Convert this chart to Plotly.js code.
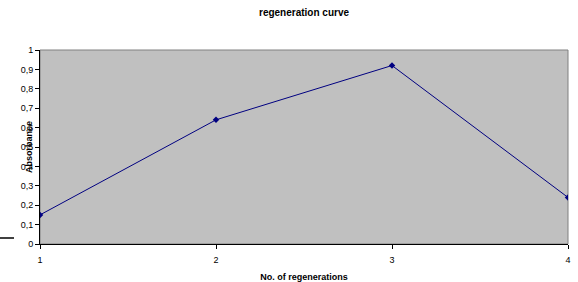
<!DOCTYPE html>
<html>
<head>
<meta charset="utf-8">
<script src="https://cdn.plot.ly/plotly-3.0.1.min.js"></script>
<style>html,body{margin:0;padding:0;background:#fff}#chart{width:578px;height:282px}</style>
</head>
<body>
<div id="chart"></div>
<script>
var regenerations = [1, 2, 3, 4];
var absorbance = [0.15, 0.64, 0.92, 0.24];
var xTickLabels = ['1', '2', '3', '4'];

var font = 'Liberation Sans, Arial, sans-serif';

var trace = {
  x: regenerations,
  y: absorbance,
  type: 'scatter',
  mode: 'lines+markers',
  line: {color: '#000080', width: 1},
  marker: {symbol: 'diamond', size: 5, color: '#000080'},
  showlegend: false,
  hoverinfo: 'skip'
};

var layout = {
  width: 578,
  height: 282,
  margin: {l: 40, r: 10, t: 50, b: 38},
  paper_bgcolor: '#ffffff',
  plot_bgcolor: '#C0C0C0',
  separators: ',.',
  font: {family: font, size: 9, color: '#000000'},
  title: {
    text: '<b>regeneration curve</b>',
    font: {family: font, size: 10, color: '#000000'},
    x: 0.526, xanchor: 'center',
    y: 0.954, yanchor: 'middle'
  },
  xaxis: {
    range: [1, 4],
    tickvals: regenerations,
    ticktext: xTickLabels,
    showgrid: false,
    zeroline: false,
    showline: true,
    linecolor: '#000000',
    linewidth: 1,
    ticks: 'outside',
    ticklen: 4,
    tickcolor: '#000000',
    ticklabelstandoff: 3,
    tickfont: {family: font, size: 9, color: '#000000'},
    title: {text: '<b>No. of regenerations</b>', font: {family: font, size: 9, color: '#000000'}, standoff: 11}
  },
  yaxis: {
    range: [0, 1],
    dtick: 0.1,
    tick0: 0,
    showgrid: false,
    zeroline: false,
    showline: true,
    linecolor: '#000000',
    linewidth: 1,
    ticks: 'outside',
    ticklen: 4,
    tickcolor: '#000000',
    tickfont: {family: font, size: 9, color: '#000000'},
    title: {text: ''}
  },
  shapes: [
    {type: 'rect', xref: 'paper', yref: 'paper', x0: 0, x1: 1, y0: 0, y1: 1,
     line: {color: '#808080', width: 1}, layer: 'below'},
    {type: 'line', xref: 'paper', yref: 'paper', x0: -40/528, x1: -26/528, y0: 6/194, y1: 6/194,
     line: {color: '#000000', width: 1.5}}
  ],
  annotations: [
    {text: '<b>Absorbance</b>', xref: 'paper', yref: 'paper', x: 0, y: 0.5,
     xshift: -18, textangle: -90, showarrow: false,
     font: {family: font, size: 9, color: '#000000'}}
  ]
};

Plotly.newPlot('chart', [trace], layout, {staticPlot: true, displayModeBar: false});
</script>
</body>
</html>
